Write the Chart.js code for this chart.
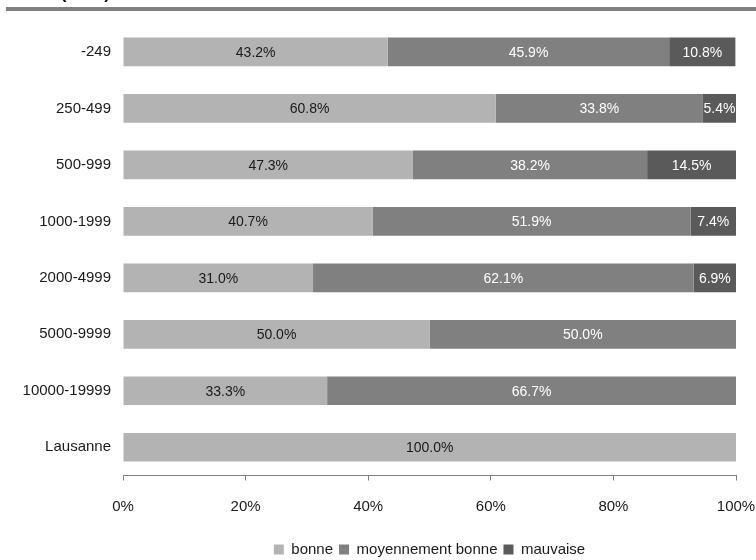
<!DOCTYPE html>
<html lang="fr">
<head>
<meta charset="UTF-8">
<title>Appréciation</title>
<script src="https://cdn.jsdelivr.net/npm/chart.js"></script>
<style>
    html, body { margin: 0; padding: 0; background: #fff; }
    #wrap { width: 756px; height: 560px; position: relative; }
</style>
</head>
<body>
<div id="wrap"><canvas id="graphe"></canvas></div>
<script>
    const categories = ['-249', '250-499', '500-999', '1000-1999', '2000-4999', '5000-9999', '10000-19999', 'Lausanne'];
    const bonne = [43.2, 60.8, 47.3, 40.7, 31.0, 50.0, 33.3, 100.0];
    const moyennement = [45.9, 33.8, 38.2, 51.9, 62.1, 50.0, 66.7, 0];
    const mauvaise = [10.8, 5.4, 14.5, 7.4, 6.9, 0, 0, 0];
    const xTicks = [0, 20, 40, 60, 80, 100];
    const titre = 'ces (2000)';

    const police = "Arial, 'Liberation Sans', sans-serif";

    // bandeau du haut (titre coupé + trait gris)
    const bandeau = {
        id: 'bandeau',
        beforeDraw(chart) {
            const c = chart.ctx;
            c.save();
            c.fillStyle = '#808080';
            c.fillRect(6, 7, 750, 4);
            c.fillStyle = '#000';
            c.font = 'bold 17px ' + police;
            c.textAlign = 'right';
            c.textBaseline = 'alphabetic';
            c.fillText(titre, 110, -1);
            c.restore();
        }
    };

    // étiquettes de valeur au centre des barres
    const etiquettes = {
        id: 'etiquettes',
        afterDatasetsDraw(chart) {
            const c = chart.ctx;
            c.save();
            c.font = '14px ' + police;
            c.textAlign = 'center';
            c.textBaseline = 'middle';
            chart.data.datasets.forEach((ds, i) => {
                chart.getDatasetMeta(i).data.forEach((bar, j) => {
                    const v = ds.data[j];
                    if (!v) return;
                    const p = bar.getProps(['x', 'base', 'y'], true);
                    c.fillStyle = i === 0 ? '#1a1a1a' : '#ffffff';
                    c.fillText(v.toFixed(1) + '%', (p.x + p.base) / 2, p.y + 1);
                });
            });
            c.restore();
        }
    };

    // légende centrée sous la zone de tracé
    const legendeCentree = {
        id: 'legendeCentree',
        afterLayout(chart) {
            const lg = chart.legend;
            if (!lg) return;
            lg.left = chart.chartArea.left;
            lg.right = chart.chartArea.right;
            lg.width = lg.right - lg.left;
            lg.top += 7;
            lg.bottom += 7;
        }
    };

    new Chart(document.getElementById('graphe'), {
        type: 'bar',
        data: {
            labels: categories,
            datasets: [
                { label: 'bonne', data: bonne, backgroundColor: '#b3b3b3' },
                { label: 'moyennement bonne', data: moyennement, backgroundColor: '#808080' },
                { label: 'mauvaise', data: mauvaise, backgroundColor: '#5a5a5a' }
            ]
        },
        options: {
            indexAxis: 'y',
            responsive: true,
            maintainAspectRatio: false,
            animation: false,
            barPercentage: 0.507,
            categoryPercentage: 1,
            layout: { padding: { top: 23.7, right: 0, left: 0, bottom: 0 } },
            scales: {
                x: {
                    stacked: true,
                    min: 0,
                    max: 100,
                    afterBuildTicks(scale) {
                        scale.ticks = xTicks.map(v => ({ value: v }));
                    },
                    afterFit(scale) {
                        scale.height = 53.5;
                        scale.paddingRight = 20;
                        scale.paddingLeft = 0;
                    },
                    grid: { drawOnChartArea: false, drawTicks: true, tickLength: 5, color: '#808080' },
                    border: { display: true, color: '#808080', width: 1 },
                    ticks: {
                        padding: 17.5,
                        color: '#1a1a1a',
                        font: { family: police, size: 15 },
                        callback: v => v + '%'
                    }
                },
                y: {
                    stacked: true,
                    afterFit(scale) { scale.width = 123; },
                    grid: { display: false, drawTicks: false },
                    border: { display: false },
                    ticks: {
                        padding: 12,
                        color: '#1a1a1a',
                        font: { family: police, size: 15 }
                    }
                }
            },
            plugins: {
                legend: {
                    position: 'bottom',
                    labels: {
                        boxWidth: 10,
                        boxHeight: 10,
                        padding: 6,
                        color: '#1a1a1a',
                        font: { family: police, size: 15 }
                    }
                },
                tooltip: { enabled: false }
            }
        },
        plugins: [bandeau, etiquettes, legendeCentree]
    });
</script>
</body>
</html>
